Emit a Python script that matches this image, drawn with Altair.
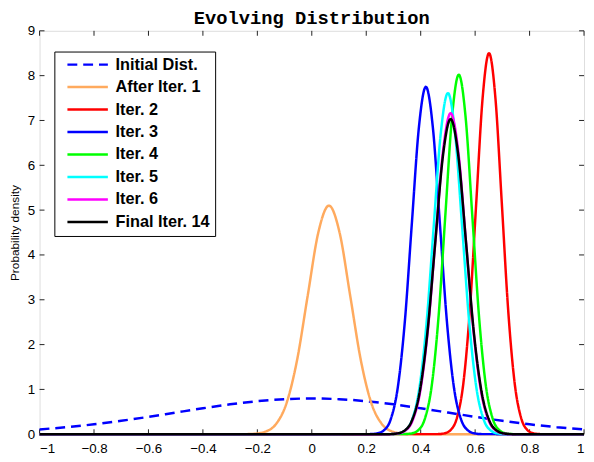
import altair as alt
import pandas as pd

title_text = ["Evolving Distribution"]
series_names = ["Initial Dist.", "After Iter. 1", "Iter. 2", "Iter. 3",
                "Iter. 4", "Iter. 5", "Iter. 6", "Final Iter. 14"]
series_colors = ["#0000FF", "#FFAA5E", "#FF0000", "#0000FF",
                 "#00FF00", "#00FFFF", "#FF00FF", "#000000"]
series_dashes = [[10, 6], [1, 0], [1, 0], [1, 0], [1, 0], [1, 0], [1, 0], [1, 0]]

x_ticks = [-1.0, -0.8, -0.6, -0.4, -0.2, 0.0, 0.2, 0.4, 0.6, 0.8, 1.0]
y_ticks = [0, 1, 2, 3, 4, 5, 6, 7, 8, 9]

init_x = [-1.0, -0.9, -0.8, -0.7, -0.6, -0.5, -0.4, -0.3, -0.2, -0.1, 0.0,
          0.1, 0.2, 0.3, 0.4, 0.5, 0.6, 0.7, 0.8, 0.9, 1.0]
init_y = [0.108, 0.158, 0.222, 0.300, 0.388, 0.484, 0.579, 0.667, 0.737, 0.782, 0.798,
          0.782, 0.737, 0.667, 0.579, 0.484, 0.388, 0.300, 0.222, 0.158, 0.108]

iter1_x = [-1.0, -0.249, -0.210, -0.171, -0.132, -0.093, -0.054, -0.015, 0.024, 0.063,
           0.102, 0.141, 0.180, 0.219, 0.258, 0.297, 0.336, 0.375, 1.0]
iter1_y = [0.0, 0.002, 0.011, 0.057, 0.224, 0.690, 1.656, 3.093, 4.501, 5.10,
           4.501, 3.093, 1.656, 0.690, 0.224, 0.057, 0.011, 0.002, 0.0]

iter2_x = [-1.0, 0.463, 0.4865, 0.510, 0.5335, 0.557, 0.5805, 0.604, 0.6275, 0.651,
           0.6745, 0.698, 0.7215, 0.745, 0.7685, 0.792, 0.8155, 0.839, 1.0]
iter2_y = [0.0, 0.003, 0.019, 0.094, 0.373, 1.150, 2.760, 5.155, 7.501, 8.50,
           7.501, 5.155, 2.760, 1.150, 0.373, 0.094, 0.019, 0.003, 0.0]

iter3_x = [-1.0, 0.213, 0.2388, 0.2645, 0.2903, 0.316, 0.3418, 0.3675, 0.3933, 0.419,
           0.4448, 0.4705, 0.4963, 0.522, 0.5478, 0.5735, 0.5993, 0.625, 1.0]
iter3_y = [0.0, 0.003, 0.017, 0.086, 0.340, 1.049, 2.516, 4.700, 6.839, 7.75,
           6.839, 4.700, 2.516, 1.049, 0.340, 0.086, 0.017, 0.003, 0.0]

iter4_x = [-1.0, 0.3412, 0.3660, 0.3909, 0.4157, 0.4406, 0.4654, 0.4903, 0.5151, 0.540,
           0.5649, 0.5897, 0.6146, 0.6394, 0.6643, 0.6891, 0.7140, 0.7388, 1.0]
iter4_y = [0.0, 0.003, 0.018, 0.089, 0.352, 1.085, 2.604, 4.864, 7.078, 8.02,
           7.078, 4.864, 2.604, 1.085, 0.352, 0.089, 0.018, 0.003, 0.0]

iter5_x = [-1.0, 0.2903, 0.3165, 0.3427, 0.3690, 0.3952, 0.4214, 0.4476, 0.4738, 0.500,
           0.5262, 0.5524, 0.5786, 0.6048, 0.6310, 0.6573, 0.6835, 0.7097, 1.0]
iter5_y = [0.0, 0.003, 0.017, 0.084, 0.334, 1.030, 2.471, 4.616, 6.716, 7.61,
           6.716, 4.616, 2.471, 1.030, 0.334, 0.084, 0.017, 0.003, 0.0]

iter6_x = [-1.0, 0.2871, 0.3150, 0.3428, 0.3707, 0.3986, 0.4264, 0.4543, 0.4821, 0.510,
           0.5379, 0.5657, 0.5936, 0.6214, 0.6493, 0.6772, 0.7050, 0.7329, 1.0]
iter6_y = [0.0, 0.002, 0.016, 0.079, 0.314, 0.969, 2.325, 4.343, 6.319, 7.16,
           6.319, 4.343, 2.325, 0.969, 0.314, 0.079, 0.016, 0.002, 0.0]

final_x = [-1.0, 0.283, 0.3114, 0.3398, 0.3681, 0.3965, 0.4249, 0.4533, 0.4816, 0.510,
           0.5384, 0.5668, 0.5951, 0.6235, 0.6519, 0.6803, 0.7086, 0.737, 1.0]
final_y = [0.0, 0.002, 0.015, 0.078, 0.309, 0.951, 2.283, 4.264, 6.204, 7.03,
           6.204, 4.264, 2.283, 0.951, 0.309, 0.078, 0.015, 0.002, 0.0]

all_x = [init_x, iter1_x, iter2_x, iter3_x, iter4_x, iter5_x, iter6_x, final_x]
all_y = [init_y, iter1_y, iter2_y, iter3_y, iter4_y, iter5_y, iter6_y, final_y]

rows = []
for name, xs, ys in zip(series_names, all_x, all_y):
    for i, (a, b) in enumerate(zip(xs, ys)):
        rows.append({"x": a, "y": b, "series": name, "i": i})
df = pd.DataFrame(rows)

W, H = 552, 409
FONT = "Liberation Sans"

xsc = alt.Scale(domain=[-1, 1], nice=False, zero=False)
ysc = alt.Scale(domain=[0, 9], nice=False, zero=False)

legend = alt.Legend(
    title=None, orient="none", legendX=15, legendY=21, direction="vertical",
    symbolType="M0,0H8.2", symbolSize=100, symbolStrokeWidth=2.5,
    labelFont=FONT, labelFontSize=16.5, labelFontWeight="bold", labelColor="black",
    labelOffset=40.5, labelLimit=300, padding=5, rowPadding=5.8,
    strokeColor="black", fillColor="white", cornerRadius=0,
)

color_enc = alt.Color("series:N", scale=alt.Scale(domain=series_names, range=series_colors),
                      legend=legend)
dash_enc = alt.StrokeDash("series:N", scale=alt.Scale(domain=series_names, range=series_dashes),
                          legend=legend)

x_axis = alt.Axis(values=x_ticks, format=".1~f", title=None, grid=False, domain=False,
                  ticks=False, tickSize=0, labelPadding=8, labelFont=FONT, labelFontSize=13.5,
                  labelColor="black")
y_axis = alt.Axis(values=y_ticks, format="d", title="Probability density", grid=False,
                  domain=False, ticks=False, tickSize=0, labelPadding=5, labelFont=FONT,
                  labelFontSize=13.5, labelColor="black", titleFont=FONT, titleFontSize=12,
                  titleFontWeight="normal", titleColor="black", titlePadding=6)

layers = []
for k, name in enumerate(series_names):
    layer = alt.Chart(df).transform_filter(alt.datum.series == name).mark_line(
        strokeWidth=2.5, interpolate="monotone"
    ).encode(
        x=alt.X("x:Q", scale=xsc, axis=x_axis) if k == 0 else alt.X("x:Q", scale=xsc),
        y=alt.Y("y:Q", scale=ysc, axis=y_axis) if k == 0 else alt.Y("y:Q", scale=ysc),
        color=color_enc,
        strokeDash=dash_enc,
        order="i:Q",
    )
    layers.append(layer)

xt_df = pd.DataFrame({"xt": x_ticks})
yt_df = pd.DataFrame({"yt": y_ticks})

tick_top = alt.Chart(xt_df).mark_rule(color="#222222", strokeWidth=1).encode(
    x=alt.X("xt:Q", scale=xsc), y=alt.value(0), y2=alt.value(5))
tick_bot = alt.Chart(xt_df).mark_rule(color="#222222", strokeWidth=1).encode(
    x=alt.X("xt:Q", scale=xsc), y=alt.value(H), y2=alt.value(H - 5))
tick_left = alt.Chart(yt_df).mark_rule(color="#222222", strokeWidth=1).encode(
    y=alt.Y("yt:Q", scale=ysc), x=alt.value(0), x2=alt.value(5))
tick_right = alt.Chart(yt_df).mark_rule(color="#222222", strokeWidth=1).encode(
    y=alt.Y("yt:Q", scale=ysc), x=alt.value(W), x2=alt.value(W - 5))

title_layer = alt.Chart(pd.DataFrame({"t": title_text})).mark_text(
    font="Liberation Mono", fontSize=19, fontWeight="bold", color="black",
    align="center", baseline="alphabetic"
).encode(x=alt.value(W / 2), y=alt.value(-7), text="t:N")

chart = alt.layer(tick_top, tick_bot, tick_left, tick_right, *layers, title_layer).properties(
    width=W, height=H,
    autosize=alt.AutoSizeParams(type="none"),
    padding={"left": 32, "top": 20, "right": 2, "bottom": 25},
).configure_view(stroke="black", strokeWidth=1).configure(background="white")

chart.save("out.html", embed_options={"renderer": "svg", "actions": False})
